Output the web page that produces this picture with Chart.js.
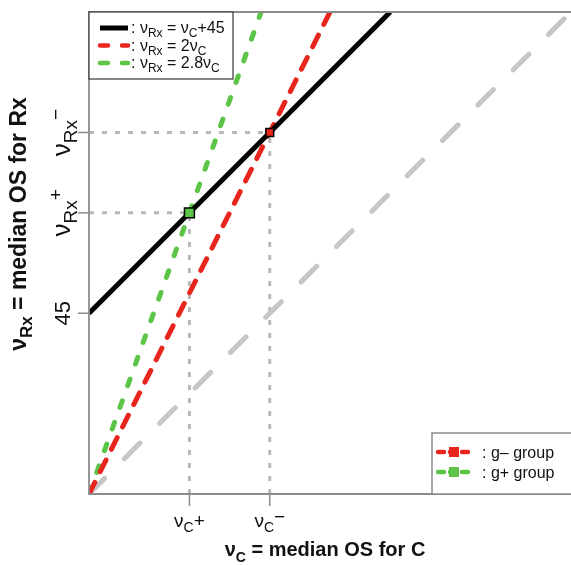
<!DOCTYPE html>
<html>
<head>
<meta charset="utf-8">
<script src="https://cdn.jsdelivr.net/npm/chart.js@4"></script>
<style>
  html, body { margin: 0; padding: 0; background: #fff; }
  #wrap { width: 571px; height: 565px; }
</style>
</head>
<body>
<div id="wrap"><canvas id="chart" width="571" height="565"></canvas></div>
<script>
// axis range (both axes share the same scale)
const axisMax = 120;

// line end points
const refX = [0, 120], refY = [0, 120];          // grey nu_Rx = nu_C
const blackX = [0, 75], blackY = [45, 120];      // nu_Rx = nu_C + 45
const redX = [0, 60], redY = [0, 120];           // nu_Rx = 2 nu_C
const greenX = [0, 42.86], greenY = [0, 120];    // nu_Rx = 2.8 nu_C

// intersection points
const greenPt = [25, 70];
const redPt = [45, 90];

// tick positions
const xTickValues = [25, 45];
const yTickValues = [45, 70, 90];

const RED = "#e8261e";
const GREEN = "#5cc446";
const FONT = "'Liberation Sans', Arial, Helvetica, sans-serif";

function pts(xs, ys) {
    return xs.map((x, i) => ({ x: x, y: ys[i] }));
}

// draw text made of normal / sub / sup / mid parts
function drawRich(ctx, parts, x, y, size, bold, align) {
    const w = bold ? "bold " : "";
    const small = Math.round(size * 0.72);
    const sz = (k) => (k === "sub" || k === "sup" ? small : size);
    let total = 0;
    const widths = parts.map(([t, k]) => {
        ctx.font = w + sz(k) + "px " + FONT;
        const m = ctx.measureText(t).width;
        total += m;
        return m;
    });
    let cx = align === "center" ? x - total / 2 : x;
    ctx.textBaseline = "alphabetic";
    ctx.textAlign = "left";
    parts.forEach(([t, k], i) => {
        ctx.font = w + sz(k) + "px " + FONT;
        let dy = 0;
        if (k === "sub") dy = size * 0.28;
        if (k === "sup") dy = -size * 0.3;
        if (k === "mid") dy = -size * 0.2;
        ctx.fillText(t, cx, y + dy);
        cx += widths[i];
    });
}

const xTickParts = [
    [["ν", "n"], ["C", "sub"], ["+", "n"]],
    [["ν", "n"], ["C", "sub"], ["−", "mid"]],
];
const yTickParts = [
    [["45", "n"]],
    [["ν", "n"], ["Rx", "sub"], ["+", "sup"]],
    [["ν", "n"], ["Rx", "sub"], ["−", "sup"]],
];
const yTickSizes = [22, 26, 26];

const decor = {
    id: "decor",
    afterDatasetsDraw(chart) {
        const ctx = chart.ctx;
        const xs = chart.scales.x, ys = chart.scales.y;
        const a = chart.chartArea;
        ctx.save();

        // frame
        ctx.strokeStyle = "#8c8c8c";
        ctx.lineWidth = 1.8;
        ctx.beginPath();
        ctx.moveTo(a.right + 2, a.top);
        ctx.lineTo(a.left, a.top);
        ctx.lineTo(a.left, a.bottom);
        ctx.lineTo(a.right + 2, a.bottom);
        ctx.stroke();

        // ticks
        ctx.lineWidth = 1.5;
        ctx.fillStyle = "#111";
        xTickValues.forEach((v, i) => {
            const px = xs.getPixelForValue(v);
            ctx.beginPath();
            ctx.moveTo(px, a.bottom);
            ctx.lineTo(px, a.bottom + 12);
            ctx.stroke();
            drawRich(ctx, xTickParts[i], px, a.bottom + 33, 19, false, "center");
        });
        yTickValues.forEach((v, i) => {
            const py = ys.getPixelForValue(v);
            ctx.beginPath();
            ctx.moveTo(a.left - 11, py);
            ctx.lineTo(a.left, py);
            ctx.stroke();
            ctx.save();
            ctx.translate(a.left - 19, py);
            ctx.rotate(-Math.PI / 2);
            drawRich(ctx, yTickParts[i], 0, 0, yTickSizes[i], false, "center");
            ctx.restore();
        });

        // axis titles
        drawRich(ctx, [["ν", "n"], ["C", "sub"], [" = median OS for C", "n"]],
            325, 556, 20, true, "center");
        ctx.save();
        ctx.translate(26, 224);
        ctx.rotate(-Math.PI / 2);
        drawRich(ctx, [["ν", "n"], ["Rx", "sub"], [" = median OS for Rx", "n"]],
            0, 0, 23, true, "center");
        ctx.restore();

        // top-left legend
        const lx = a.left, ly = a.top;
        ctx.fillStyle = "#fff";
        ctx.fillRect(lx, ly, 144, 67);
        ctx.strokeStyle = "#444";
        ctx.lineWidth = 1.3;
        ctx.strokeRect(lx, ly, 144, 67);
        const rows = [
            { c: "#000", dash: [], w: 5, parts: [[": ν", "n"], ["Rx", "sub"], [" = ν", "n"], ["C", "sub"], ["+45", "n"]] },
            { c: RED, dash: [8, 14], w: 4.5, parts: [[": ν", "n"], ["Rx", "sub"], [" = 2ν", "n"], ["C", "sub"]] },
            { c: GREEN, dash: [8, 14], w: 4.5, parts: [[": ν", "n"], ["Rx", "sub"], [" = 2.8ν", "n"], ["C", "sub"]] },
        ];
        rows.forEach((r, i) => {
            const yy = ly + 16 + i * 17.5;
            ctx.strokeStyle = r.c;
            ctx.lineWidth = r.w;
            ctx.lineCap = r.dash.length ? "round" : "butt";
            ctx.setLineDash(r.dash);
            ctx.beginPath();
            ctx.moveTo(lx + 11, yy);
            ctx.lineTo(lx + 39, yy);
            ctx.stroke();
            ctx.setLineDash([]);
            ctx.fillStyle = "#111";
            drawRich(ctx, r.parts, lx + 42, yy + 5, 16, false, "left");
        });

        // bottom-right legend
        const bx = 432, by = 433;
        ctx.fillStyle = "#fff";
        ctx.fillRect(bx, by, 150, a.bottom - by);
        ctx.strokeStyle = "#8c8c8c";
        ctx.lineWidth = 1.5;
        ctx.strokeRect(bx, by, 150, a.bottom - by);
        const grp = [
            { c: RED, t: ": g– group" },
            { c: GREEN, t: ": g+ group" },
        ];
        grp.forEach((g, i) => {
            const yy = by + 19 + i * 20;
            ctx.strokeStyle = g.c;
            ctx.lineWidth = 4.5;
            ctx.lineCap = "round";
            ctx.setLineDash([6, 6]);
            ctx.beginPath();
            ctx.moveTo(bx + 6, yy);
            ctx.lineTo(bx + 38, yy);
            ctx.stroke();
            ctx.setLineDash([]);
            ctx.fillStyle = g.c;
            ctx.fillRect(bx + 17, yy - 5, 10, 10);
            ctx.fillStyle = "#111";
            ctx.font = "16px " + FONT;
            ctx.textAlign = "left";
            ctx.textBaseline = "alphabetic";
            ctx.fillText(g.t, bx + 50, yy + 6);
        });

        ctx.restore();
    },
};

const guide = {
    borderColor: "#b8b8b8",
    borderWidth: 3,
    borderDash: [5, 8],
    pointRadius: 0,
    fill: false,
};

// Chart.js paints dataset 0 last (on top), so markers come first
new Chart(document.getElementById("chart"), {
    type: "line",
    data: {
        datasets: [
            {
                data: [{ x: greenPt[0], y: greenPt[1] }],
                showLine: false,
                pointStyle: "rect",
                pointRadius: 7,
                backgroundColor: GREEN,
                borderColor: "#000",
                borderWidth: 1.5,
            },
            {
                data: [{ x: redPt[0], y: redPt[1] }],
                showLine: false,
                pointStyle: "rect",
                pointRadius: 5.5,
                backgroundColor: RED,
                borderColor: "#000",
                borderWidth: 1.5,
            },
            {
                data: pts(blackX, blackY),
                borderColor: "#000",
                borderWidth: 5,
                pointRadius: 0,
            },
            {
                data: pts(redX, redY),
                borderColor: RED,
                borderWidth: 5,
                borderDash: [13, 12],
                borderCapStyle: "round",
                pointRadius: 0,
            },
            {
                data: pts(greenX, greenY),
                borderColor: GREEN,
                borderWidth: 5,
                borderDash: [7, 16],
                borderCapStyle: "round",
                pointRadius: 0,
            },
            {
                data: pts(refX, refY),
                borderColor: "#c6c6c6",
                borderWidth: 5,
                borderDash: [22, 28],
                borderCapStyle: "round",
                pointRadius: 0,
            },
            Object.assign({ data: pts([0, greenPt[0]], [greenPt[1], greenPt[1]]) }, guide),
            Object.assign({ data: pts([greenPt[0], greenPt[0]], [0, greenPt[1]]) }, guide),
            Object.assign({ data: pts([0, redPt[0]], [redPt[1], redPt[1]]) }, guide),
            Object.assign({ data: pts([redPt[0], redPt[0]], [0, redPt[1]]) }, guide),
        ],
    },
    options: {
        responsive: false,
        animation: false,
        devicePixelRatio: 1,
        layout: { autoPadding: false, padding: { left: 89, top: 12, right: 0, bottom: 71 } },
        plugins: { legend: { display: false }, tooltip: { enabled: false } },
        scales: {
            x: { type: "linear", min: 0, max: axisMax, display: false },
            y: { type: "linear", min: 0, max: axisMax, display: false },
        },
    },
    plugins: [decor],
});
</script>
</body>
</html>
